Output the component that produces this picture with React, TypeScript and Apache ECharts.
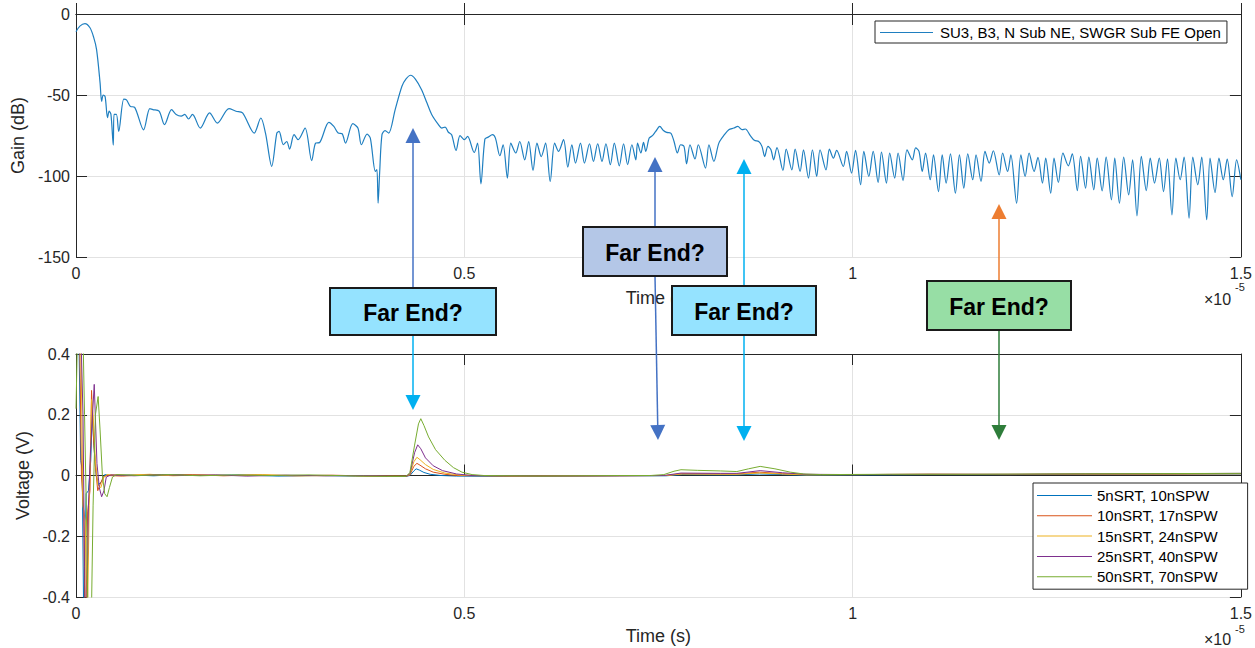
import React, { useEffect, useRef } from "react";
import * as echarts from "echarts";

// ---------- axis ticks ----------
const timeTicks = [0, 0.5, 1, 1.5];
const gainTicks = [-150, -100, -50, 0];
const voltTicks = [-0.4, -0.2, 0, 0.2, 0.4];

// ---------- top panel: gain (dB) vs time (x 1e-5) ----------
const gainName = "SU3, B3, N Sub NE, SWGR Sub FE Open";
const gainData: number[][] = [
  [0, -11], [0.005, -7.5], [0.0115, -6], [0.018, -8.5], [0.0225, -14], [0.0265, -22], [0.031, -42.5], [0.033, -54],
  [0.035, -50], [0.0375, -51], [0.0406, -64], [0.0427, -60], [0.045, -62], [0.048, -81], [0.049, -62], [0.052, -62],
  [0.055, -72.5], [0.0615, -52.5], [0.065, -53], [0.07, -57], [0.0756, -57.6], [0.087, -71.5], [0.095, -58.4],
  [0.099, -59], [0.107, -60], [0.114, -68.3], [0.123, -59], [0.129, -62], [0.1355, -63], [0.14, -62], [0.145, -64.8],
  [0.15, -62], [0.16, -70.4], [0.172, -61], [0.182, -67.3], [0.197, -58.4], [0.206, -60], [0.2145, -61],
  [0.2295, -73.5], [0.238, -64.2], [0.244, -73.5], [0.252, -94], [0.2586, -73.5], [0.2615, -72.5], [0.267, -80.7],
  [0.2714, -78.7], [0.275, -83.4], [0.2808, -74.5], [0.286, -77.6], [0.295, -70.4], [0.3035, -90.6], [0.3085, -79.7],
  [0.3137, -79.3], [0.3256, -66.9], [0.332, -69.4], [0.3376, -73.5], [0.3427, -73.9], [0.347, -79.7], [0.3564, -67.7],
  [0.363, -70.4], [0.3675, -80.7], [0.3748, -74.1], [0.379, -76.6], [0.3855, -97.2], [0.3875, -96], [0.389, -116.8],
  [0.391, -98], [0.394, -74.5], [0.398, -72], [0.4026, -73.5], [0.411, -59], [0.4197, -44.6], [0.425, -40],
  [0.431, -37.8], [0.437, -40.2], [0.445, -46.7], [0.452, -55], [0.458, -62],
  [0.4667, -68.3], [0.4709, -70.4], [0.4753, -69.8], [0.4795, -73], [0.4837, -74.5], [0.4894, -84.2], [0.4945, -75.1],
  [0.5, -77.6], [0.5042, -75.6], [0.5128, -85.5], [0.5171, -79.7], [0.5214, -104.8], [0.5265, -77.2], [0.5308, -76],
  [0.5363, -74.5], [0.5401, -76.6], [0.5458, -87.5], [0.55, -80.7], [0.5555, -101.3], [0.5599, -79.7], [0.5663, -85.8],
  [0.5714, -78.7], [0.5778, -90], [0.5829, -78.7], [0.5885, -96.6], [0.5936, -79.7], [0.5991, -88], [0.6047, -79.7],
  [0.6106, -103.4], [0.6163, -79.7], [0.6214, -84.8], [0.6278, -77.6], [0.6333, -94.5], [0.6385, -80.7], [0.6432, -92],
  [0.6496, -79.7], [0.6547, -92], [0.6612, -80.1], [0.6663, -91], [0.6718, -80.1], [0.6773, -91], [0.6824, -80.1],
  [0.6881, -93], [0.6932, -79.7], [0.6996, -93.7], [0.7051, -80.1], [0.7103, -93], [0.7158, -80.7], [0.7209, -90],
  [0.7231, -79.7], [0.7274, -85.8], [0.7308, -79.3], [0.7337, -84.8], [0.7381, -76.6], [0.7423, -75.1], [0.7465, -72.5],
  [0.7517, -69.4], [0.7564, -71.9], [0.7606, -73.1], [0.7658, -73.5], [0.7701, -78.7], [0.7744, -85.8], [0.7786, -80.7],
  [0.7829, -81.7], [0.7863, -92.5], [0.7906, -80.7], [0.7971, -89.5], [0.8013, -80.7], [0.8106, -95.1], [0.815, -80.7],
  [0.8214, -91], [0.8278, -79.7], [0.835, -74.5], [0.8406, -71.4], [0.8471, -70.4], [0.8522, -69.4], [0.8577, -71.4],
  [0.8619, -71], [0.8683, -75.1], [0.8735, -78], [0.8791, -78.7], [0.8833, -81.7], [0.8868, -88], [0.891, -81.7],
  [0.8949, -83.8], [0.8983, -90], [0.9026, -82.4], [0.9103, -96.6], [0.9145, -83.4], [0.9218, -96.2], [0.926, -83.4],
  [0.9324, -97.2], [0.9368, -83.8], [0.9432, -101.3], [0.9483, -83.8], [0.9538, -100.3], [0.9581, -83.8],
  [0.9658, -96.2], [0.9701, -83.4], [0.9753, -89], [0.9795, -84.2], [0.9881, -94.1], [0.9923, -84.8], [0.9987, -98.2],
  [1.0038, -84.2], [1.0103, -105.4], [1.0145, -84.8], [1.0209, -100.3], [1.0265, -84.8], [1.0329, -104],
  [1.0372, -85.2], [1.0436, -104.4], [1.0478, -85.8], [1.0542, -101.3], [1.0586, -85.8], [1.065, -102.8],
  [1.0701, -83.8], [1.0769, -90], [1.0812, -82.7], [1.0855, -84.8], [1.0897, -97.2], [1.094, -85.8], [1.1, -102.3],
  [1.1042, -86.9], [1.1106, -109.6], [1.1154, -86.9], [1.1205, -104.4], [1.126, -86.3], [1.1324, -110.6],
  [1.1376, -86.9], [1.1432, -107.5], [1.1483, -86.3], [1.1547, -102.3], [1.159, -86.9], [1.1654, -103.4],
  [1.1705, -84.8], [1.176, -92], [1.1812, -84.4], [1.1888, -99.3], [1.1932, -85.8], [1.1996, -97.2], [1.2038, -86.9],
  [1.2112, -116.8], [1.2167, -86.9], [1.2222, -100.3], [1.2273, -85.8], [1.2337, -97.2], [1.2387, -88.5],
  [1.2445, -104.4], [1.2487, -89], [1.2551, -110.6], [1.2594, -89], [1.265, -104], [1.2709, -85.8], [1.2778, -93.7],
  [1.2829, -86.3], [1.2894, -109], [1.2936, -87.9], [1.3, -107.5], [1.3042, -88.3], [1.3106, -108.5], [1.315, -89],
  [1.3214, -109.2], [1.3265, -88.3], [1.3333, -114.7], [1.3376, -89], [1.3436, -116.8], [1.3491, -88.3],
  [1.3555, -111.6], [1.3606, -90], [1.3662, -124.6], [1.3718, -87.9], [1.3782, -109], [1.3833, -89], [1.3888, -104.4],
  [1.3949, -89], [1.4004, -109.6], [1.4055, -89.4], [1.4112, -124], [1.4163, -89], [1.4218, -102.3], [1.4269, -88.3],
  [1.4333, -126], [1.4381, -88.3], [1.4445, -105.4], [1.4496, -88.3], [1.456, -127], [1.4603, -89], [1.4667, -110.2],
  [1.4718, -89], [1.4773, -102.3], [1.4824, -89.6], [1.4888, -112.7], [1.4945, -90], [1.5, -102.3],
];

// ---------- bottom panel: voltage (V) vs time (x 1e-5) ----------
const voltNames = ["5nSRT, 10nSPW", "10nSRT, 17nSPW", "15nSRT, 24nSPW", "25nSRT, 40nSPW", "50nSRT, 70nSPW"];
const voltColors = ["#0072BD", "#D95319", "#EDB120", "#7E2F8E", "#77AC30"];

const volt5: number[][] = [
  [0, 0.45], [0.003, 0.6], [0.006, 0.05], [0.008, 0.02], [0.01, -0.5], [0.013, -0.06], [0.016, -0.05], [0.019, 0.05],
  [0.021, 0.2], [0.023, 0.1], [0.026, 0.0], [0.029, -0.03], [0.033, -0.02], [0.037, 0.003], [0.045, 0.0],
  [0.07, 0.002], [0.1, -0.001], [0.13, 0.003], [0.17, 0.0], [0.21, 0.002], [0.26, -0.002], [0.31, 0.0], [0.36, -0.002],
  [0.4, -0.003], [0.425, -0.003], [0.43, 0.0], [0.435, 0.015], [0.438, 0.022], [0.442, 0.018], [0.448, 0.01],
  [0.456, 0.004], [0.47, 0.0], [0.49, -0.002], [0.55, -0.003], [0.62, -0.002], [0.7, -0.001], [0.76, -0.001],
  [0.78, 0.003], [0.85, 0.002], [0.88, 0.005], [0.91, 0.003], [0.94, 0.001], [1.0, 0.002], [1.1, 0.003],
  [1.2, 0.003], [1.3, 0.004], [1.4, 0.004], [1.5, 0.005],
];
const volt10: number[][] = [
  [0, 0.5], [0.004, 0.6], [0.007, 0.0], [0.01, -0.12], [0.012, -0.6], [0.015, -0.12], [0.018, -0.05], [0.02, 0.28],
  [0.023, 0.1], [0.025, 0.03], [0.028, -0.05], [0.031, -0.03], [0.035, -0.005], [0.04, 0.0],
  [0.06, -0.002], [0.09, 0.003], [0.12, 0.001], [0.15, 0.003], [0.19, -0.001], [0.23, 0.002], [0.28, -0.001],
  [0.33, 0.001], [0.38, -0.002], [0.425, -0.003], [0.43, 0.002], [0.435, 0.03], [0.439, 0.04], [0.443, 0.034],
  [0.45, 0.022], [0.46, 0.011], [0.475, 0.004], [0.49, 0.0], [0.56, -0.002], [0.65, -0.001], [0.76, 0.0],
  [0.78, 0.006], [0.85, 0.005], [0.88, 0.011], [0.91, 0.006], [0.94, 0.003], [1.0, 0.003], [1.1, 0.004],
  [1.2, 0.003], [1.3, 0.005], [1.4, 0.005], [1.5, 0.006],
];
const volt15: number[][] = [
  [0, 0.6], [0.006, 0.5], [0.009, -0.1], [0.012, -0.15], [0.014, -0.6], [0.017, -0.1], [0.02, 0.25], [0.022, 0.2],
  [0.025, 0.05], [0.028, -0.03], [0.032, -0.04], [0.036, -0.005], [0.04, 0.003],
  [0.065, 0.001], [0.095, 0.004], [0.125, -0.001], [0.16, 0.002], [0.2, 0.0], [0.24, 0.003], [0.29, -0.001],
  [0.34, 0.0], [0.39, -0.002], [0.425, -0.002], [0.43, 0.004], [0.435, 0.045], [0.439, 0.06], [0.443, 0.052],
  [0.45, 0.036], [0.46, 0.02], [0.475, 0.008], [0.495, 0.001], [0.57, -0.002], [0.67, -0.001], [0.76, 0.0],
  [0.78, 0.005], [0.85, 0.004], [0.88, 0.008], [0.91, 0.005], [0.94, 0.002], [1.0, 0.003], [1.1, 0.004],
  [1.2, 0.004], [1.3, 0.004], [1.4, 0.005], [1.5, 0.006],
];
const volt25: number[][] = [
  [0, 0.7], [0.005, 0.6], [0.009, 0.2], [0.011, -0.3], [0.013, -0.6], [0.016, -0.1], [0.019, 0.1], [0.0235, 0.3],
  [0.027, 0.04], [0.03, -0.04], [0.033, -0.07], [0.036, -0.05], [0.039, -0.005], [0.045, 0.002],
  [0.075, -0.001], [0.11, 0.003], [0.14, 0.0], [0.18, 0.002], [0.22, -0.002], [0.27, 0.001], [0.32, -0.001],
  [0.37, 0.0], [0.41, -0.003], [0.425, -0.003], [0.43, 0.006], [0.436, 0.075], [0.44, 0.101], [0.444, 0.088],
  [0.45, 0.058], [0.46, 0.032], [0.472, 0.016], [0.49, 0.005], [0.51, 0.0], [0.6, -0.002], [0.7, -0.001],
  [0.757, 0.0], [0.779, 0.008], [0.83, 0.007], [0.851, 0.007], [0.881, 0.016], [0.91, 0.009], [0.94, 0.004],
  [1.0, 0.003], [1.1, 0.004], [1.2, 0.004], [1.3, 0.005], [1.4, 0.006], [1.5, 0.007],
];
const volt50: number[][] = [
  [0, 0.22], [0.003, 0.6], [0.008, 0.6], [0.011, 0.2], [0.014, -0.2], [0.016, -0.6], [0.019, -0.6], [0.022, -0.1],
  [0.025, 0.2], [0.0285, 0.26], [0.031, 0.15], [0.034, 0.0], [0.037, -0.06], [0.04, -0.07], [0.043, -0.04],
  [0.047, -0.005], [0.052, 0.003], [0.08, 0.0], [0.12, 0.003], [0.16, -0.001], [0.2, 0.002], [0.25, 0.0],
  [0.3, 0.002], [0.35, -0.001], [0.4, -0.003], [0.425, -0.003], [0.43, 0.01], [0.436, 0.1], [0.441, 0.17],
  [0.444, 0.187], [0.448, 0.165], [0.454, 0.127], [0.463, 0.085], [0.475, 0.05], [0.486, 0.026], [0.497, 0.011],
  [0.51, 0.003], [0.525, 0.0], [0.6, -0.002], [0.7, 0.0], [0.74, 0.0], [0.757, 0.003], [0.77, 0.014], [0.779, 0.019],
  [0.8, 0.017], [0.83, 0.015], [0.851, 0.013], [0.866, 0.022], [0.881, 0.03], [0.9, 0.022], [0.92, 0.011],
  [0.937, 0.005], [0.96, 0.003], [1.05, 0.004], [1.15, 0.004], [1.25, 0.005], [1.35, 0.006], [1.5, 0.007],
];
const voltData = [volt5, volt10, volt15, volt25, volt50];

// ---------- annotation layout (pixels) ----------
const annoBoxes = [
  { x: 330, y: 288, w: 166, h: 47, fill: "#95E3FF" },
  { x: 583, y: 227, w: 144, h: 49, fill: "#B4C7E7" },
  { x: 672, y: 286, w: 144, h: 49, fill: "#95E3FF" },
  { x: 927, y: 281, w: 144, h: 49, fill: "#97DEA5" },
];
const annoText = "Far End?";
const arrows = [
  { x1: 413, y1: 288, x2: 413, y2: 128, color: "#4472C4" },
  { x1: 413, y1: 335, x2: 413, y2: 410, color: "#00B0F0" },
  { x1: 655, y1: 227, x2: 655, y2: 157, color: "#4472C4" },
  { x1: 655, y1: 276, x2: 658, y2: 440, color: "#4472C4" },
  { x1: 744, y1: 286, x2: 744, y2: 159, color: "#00B0F0" },
  { x1: 744, y1: 335, x2: 744, y2: 441, color: "#00B0F0" },
  { x1: 999, y1: 281, x2: 999, y2: 204, color: "#ED7D31" },
  { x1: 999, y1: 330, x2: 999, y2: 440, color: "#2E7D3A" },
];
// exponent label rows: [y of "×10", y of superscript]
const exponentRows = [[299, 287], [639, 629]];

const FONT = "Liberation Sans, Arial, Helvetica, sans-serif";
const AX = "#262626";

function buildGraphics() {
  const g: any[] = [];
  arrows.forEach((a) => {
    const dx = a.x2 - a.x1, dy = a.y2 - a.y1;
    const len = Math.sqrt(dx * dx + dy * dy);
    const ux = dx / len, uy = dy / len;
    const hl = 15, hw = 7.5;
    const bx = a.x2 - ux * hl, by = a.y2 - uy * hl;
    g.push({ type: "line", z: 100, shape: { x1: a.x1, y1: a.y1, x2: bx, y2: by }, style: { stroke: a.color, lineWidth: 1.5 } });
    g.push({
      type: "polygon", z: 100,
      shape: { points: [[a.x2, a.y2], [bx - uy * hw, by + ux * hw], [bx + uy * hw, by - ux * hw]] },
      style: { fill: a.color },
    });
  });
  annoBoxes.forEach((b) => {
    g.push({ type: "rect", z: 101, shape: { x: b.x, y: b.y, width: b.w, height: b.h }, style: { fill: b.fill, stroke: "#1a1a1a", lineWidth: 2 } });
    g.push({
      type: "text", z: 102, x: b.x + b.w / 2, y: b.y + b.h / 2 + 1,
      style: { text: annoText, fill: "#000", font: `bold 23px ${FONT}`, align: "center", verticalAlign: "middle" },
    });
  });
  exponentRows.forEach(([ym, ys]) => {
    g.push({ type: "text", z: 50, x: 1204, y: ym, style: { text: "×10", fill: AX, font: `16px ${FONT}`, verticalAlign: "middle" } });
    g.push({ type: "text", z: 50, x: 1235, y: ys, style: { text: "-5", fill: AX, font: `11px ${FONT}`, verticalAlign: "middle" } });
  });
  return g;
}

function xAxisPair(gridIndex: number, showName: boolean, nameGap: number) {
  const min = timeTicks[0], max = timeTicks[timeTicks.length - 1], interval = timeTicks[1] - timeTicks[0];
  return [
    {
      type: "value", gridIndex, min, max, interval, position: "bottom",
      name: showName ? "Time (s)" : "", nameLocation: "middle", nameGap,
      nameTextStyle: { color: AX, fontSize: 18, fontFamily: FONT },
      axisLine: { show: true, lineStyle: { color: AX, width: 1 } },
      axisTick: { show: true, inside: true, length: 11, lineStyle: { color: AX } },
      axisLabel: { color: AX, fontSize: 16, fontFamily: FONT, margin: 8, formatter: (v: number) => String(v) },
      splitLine: { show: true, lineStyle: { color: "#e2e2e2", width: 1 } },
    },
    {
      type: "value", gridIndex, min, max, interval, position: "top",
      axisLine: { show: true, onZero: false, lineStyle: { color: AX, width: 1 } },
      axisTick: { show: true, inside: true, length: 11, lineStyle: { color: AX } },
      axisLabel: { show: false }, splitLine: { show: false },
    },
  ];
}

function yAxisPair(gridIndex: number, ticks: number[], name: string, fmt: (v: number) => string, gap: number) {
  const min = ticks[0], max = ticks[ticks.length - 1], interval = ticks[1] - ticks[0];
  return [
    {
      type: "value", gridIndex, min, max, interval, position: "left",
      name, nameLocation: "middle", nameGap: gap, nameRotate: 90,
      nameTextStyle: { color: AX, fontSize: 18, fontFamily: FONT },
      axisLine: { show: true, onZero: false, lineStyle: { color: AX, width: 1 } },
      axisTick: { show: true, inside: true, length: 11, lineStyle: { color: AX } },
      axisLabel: { color: AX, fontSize: 16, fontFamily: FONT, margin: 6, formatter: fmt },
      splitLine: { show: true, lineStyle: { color: "#e2e2e2", width: 1 } },
    },
    {
      type: "value", gridIndex, min, max, interval, position: "right",
      axisLine: { show: true, onZero: false, lineStyle: { color: AX, width: 1 } },
      axisTick: { show: true, inside: true, length: 11, lineStyle: { color: AX } },
      axisLabel: { show: false }, splitLine: { show: false },
    },
  ];
}

export default function App() {
  const ref = useRef<HTMLDivElement>(null);
  useEffect(() => {
    document.body.style.margin = "0";
    if (!ref.current) return;
    const chart = echarts.init(ref.current, undefined, { renderer: "svg" });
    const series: any[] = [
      {
        name: gainName, type: "line", xAxisIndex: 0, yAxisIndex: 0, data: gainData, smooth: 0.3,
        showSymbol: false, symbol: "none", lineStyle: { color: "#1f7fc0", width: 1.2 }, itemStyle: { color: "#1f7fc0" },
      },
    ];
    voltNames.forEach((n, i) => {
      series.push({
        name: n, type: "line", xAxisIndex: 2, yAxisIndex: 2, data: voltData[i], clip: true,
        showSymbol: false, symbol: "none", lineStyle: { color: voltColors[i], width: 1 }, itemStyle: { color: voltColors[i] },
      });
    });
    chart.setOption({
      animation: false,
      backgroundColor: "#ffffff",
      grid: [
        { left: 76, top: 14, width: 1170, height: 243 },
        { left: 76, top: 354, width: 1170, height: 243 },
      ],
      xAxis: [...xAxisPair(0, true, 32), ...xAxisPair(1, true, 30)],
      yAxis: [
        ...yAxisPair(0, gainTicks, "Gain (dB)", (v: number) => String(v), 42),
        ...yAxisPair(1, voltTicks, "Voltage (V)", (v: number) => String(Math.round(v * 10) / 10), 40),
      ],
      legend: [
        {
          data: [gainName], left: 875, top: 21, orient: "vertical",
          icon: "rect", itemWidth: 53, itemHeight: 1, itemGap: 0,
          padding: [4, 6, 3, 5], borderColor: AX, borderWidth: 1, backgroundColor: "#fff",
          textStyle: { color: "#000", fontSize: 15, fontFamily: FONT, padding: [0, 0, 0, 2] },
        },
        {
          data: voltNames, left: 1033, top: 483, orient: "vertical",
          icon: "rect", itemWidth: 55, itemHeight: 1, itemGap: 5.3,
          padding: [5, 30, 5, 4], borderColor: AX, borderWidth: 1, backgroundColor: "#fff",
          textStyle: { color: "#000", fontSize: 15, fontFamily: FONT, lineHeight: 15 },
        },
      ],
      series,
      graphic: buildGraphics(),
    });
    return () => chart.dispose();
  }, []);
  return <div ref={ref} style={{ width: 1255, height: 648 }} />;
}
